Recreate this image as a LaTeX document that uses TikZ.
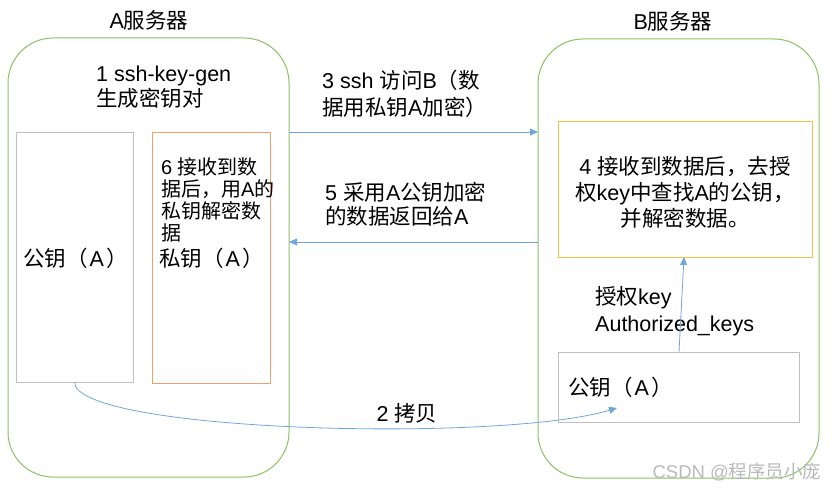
\documentclass[tikz,border=0pt]{standalone}
\usepackage{fontspec}
\setmainfont{Liberation Sans}
\newfontfamily\latinfont{Liberation Sans}
\newfontfamily\cjkfont{Noto Sans CJK SC}
\XeTeXinterchartokenstate=1
\newXeTeXintercharclass\CJKcls
\count255="3000
\loop\XeTeXcharclass\count255=\CJKcls\ifnum\count255<"9FFF\advance\count255 by 1\repeat
\count255="FF00
\loop\XeTeXcharclass\count255=\CJKcls\ifnum\count255<"FFEF\advance\count255 by 1\repeat
\XeTeXinterchartoks 0 \CJKcls = {\cjkfont}
\XeTeXinterchartoks 4095 \CJKcls = {\cjkfont}
\XeTeXinterchartoks \CJKcls 0 = {\latinfont}
\XeTeXinterchartoks \CJKcls 4095 = {\latinfont}
\usetikzlibrary{arrows.meta}
\definecolor{grn}{HTML}{8CC063}
\definecolor{gbox}{HTML}{C0C0C0}
\definecolor{obox}{HTML}{F0A070}
\definecolor{ybox}{HTML}{F5C242}
\definecolor{arrc}{HTML}{6FA6DC}
\newcommand{\pubA}{公钥（\kern2pt A\kern2pt）}
\newcommand{\priA}{私钥（\kern2pt A\kern2pt）}
\begin{document}
\begin{tikzpicture}[x=1pt,y=-1pt,
  server/.style={draw=grn,line width=1pt,rounded corners=45pt,anchor=north west,inner sep=0pt,outer sep=0pt},
  keybox/.style={line width=1pt,anchor=north west,inner sep=0pt,outer sep=0pt},
  txt/.style={font=\fontsize{21.5}{25}\selectfont,inner sep=0pt,align=left},
  arr/.style={draw=arrc,line width=0.8pt,-{Triangle[length=8pt,width=7pt]}}]
\useasboundingbox (0,0) rectangle (838,492);
% servers
\node[server,minimum width=281pt,minimum height=439pt] (aSrv) at (8,38) {};
\node[server,minimum width=281pt,minimum height=439pt] (bSrv) at (538,39) {};
\node[txt] (titleA) at (149,20) {A服务器};
\node[txt] (titleB) at (673,21) {B服务器};
% boxes in A
\node[keybox,draw=gbox,minimum width=117pt,minimum height=249pt] (pubA) at (16,133) {};
\node[keybox,draw=obox,minimum width=118pt,minimum height=250pt] (priA) at (152,133) {};
\node[txt,anchor=west] (pubAlbl) at (23,258) {\pubA};
\node[txt,anchor=west] (priAlbl) at (159,258) {\priA};
% boxes in B
\node[keybox,draw=ybox,minimum width=254pt,minimum height=135pt] (yel) at (558,122) {};
\node[keybox,draw=gbox,minimum width=241pt,minimum height=70pt] (pubB) at (558,352) {};
\node[txt,anchor=west] (pubBlbl) at (568,387) {\pubA};
% texts
\node[txt,anchor=west] (step1) at (96,87.5) {1 ssh-key-gen\\生成密钥对};
\node[txt,anchor=west,font=\fontsize{21.5}{27}\selectfont] (step3) at (322,93.5) {3 ssh 访问B（数\\据用私钥A加密）};
\node[txt,anchor=west,font=\fontsize{21.5}{24}\selectfont] (step5) at (325,204) {5 采用A公钥加密\\的数据返回给A};
\node[txt,anchor=west,font=\fontsize{20}{22}\selectfont] (step6) at (161,200) {6 接收到数\\据后，用A的\\私钥解密数\\据};
\node[txt,align=center,font=\fontsize{21.5}{26}\selectfont] (step4) at (685,192) {4 接收到数据后，去授\\权key中查找A的公钥，\\并解密数据。};
\node[txt,anchor=west,font=\fontsize{21.5}{27}\selectfont] (authk) at (595,311.5) {授权key\\Authorized\_keys};
\node[txt] (step2) at (407,413) {2 拷贝};
\node[txt,text=gray!55,font=\fontsize{18.5}{20}\selectfont] (wm) at (737,472) {CSDN @程序员小庞};
% connectors
\coordinate (y3) at (0,132);
\coordinate (y5) at (0,242);
\draw[arr] (aSrv.east |- y3) -- (bSrv.west |- y3);
\draw[arr] (bSrv.west |- y5) -- (aSrv.east |- y5);
\coordinate (x4s) at (679,0);
\coordinate (x4e) at (684,0);
\draw[arr] (pubB.north -| x4s) -- (yel.south -| x4e);
\coordinate (c2e) at (617,408);
\draw[arr] (pubA.south) .. controls +(0,50) and (500,443) .. (c2e);
\end{tikzpicture}
\end{document}
